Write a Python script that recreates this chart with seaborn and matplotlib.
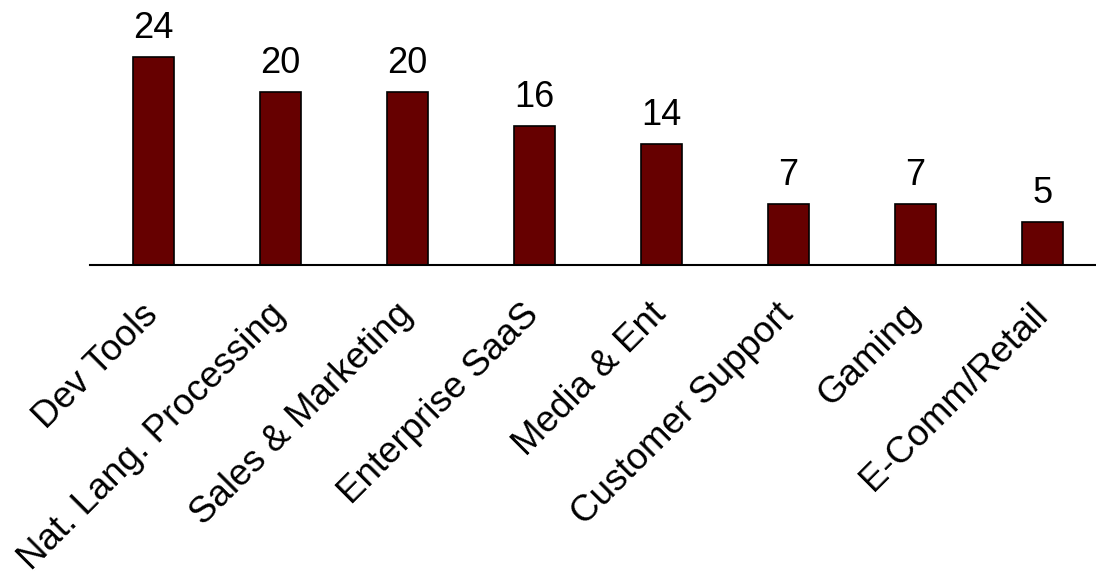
import matplotlib
matplotlib.use("Agg")
import matplotlib.pyplot as plt
import matplotlib.transforms as mtransforms
import seaborn as sns

categories = ["Dev Tools", "Nat. Lang. Processing", "Sales & Marketing",
              "Enterprise SaaS", "Media & Ent", "Customer Support",
              "Gaming", "E-Comm/Retail"]
counts = [24, 20, 20, 16, 14, 7, 7, 5]

sns.set_style("white")
plt.rcParams["font.family"] = ["Liberation Sans", "DejaVu Sans"]
plt.rcParams["text.color"] = "black"

fig = plt.figure(figsize=(10.96, 5.72), dpi=100)
ax = fig.add_axes([90 / 1096, 307 / 572, 1006 / 1096, 265 / 572])

sns.barplot(x=categories, y=counts, color="#660000", saturation=1,
            width=0.32, edgecolor="black", linewidth=1.2, ax=ax)

ax.bar_label(ax.containers[0], labels=[str(v) for v in counts],
             padding=8, fontsize=26, color="black")

ax.set_xlim(-0.5, 7.42)
ax.set_ylim(0, 30.57)
ax.set_xlabel("")
ax.set_ylabel("")
ax.set_yticks([])
ax.tick_params(axis="x", length=0, pad=23, labelsize=26.5, labelcolor="black")
shift = mtransforms.ScaledTranslation(-13 / 100, 0, fig.dpi_scale_trans)
for lab in ax.get_xticklabels():
    lab.set_rotation(45)
    lab.set_ha("right")
    lab.set_va("top")
    lab.set_rotation_mode("anchor")
    lab.set_transform(lab.get_transform() + shift)

for side in ["top", "right", "left"]:
    ax.spines[side].set_visible(False)
ax.spines["bottom"].set_color("black")
ax.spines["bottom"].set_linewidth(1.5)

fig.savefig("out.png", dpi=100)
